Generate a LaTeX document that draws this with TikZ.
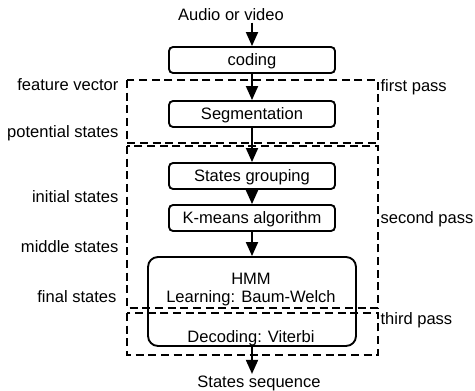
\documentclass[tikz,border=0pt]{standalone}
\usepackage{fontspec}
\setmainfont{Liberation Sans}
\usetikzlibrary{arrows.meta}

\tikzset{
  box/.style={draw, line width=1.4pt, inner sep=0pt},
  stage/.style={box, rounded corners=3pt, minimum width=124.5pt,
                minimum height=19.5pt, text depth=0pt},
  hmmbox/.style={box, rounded corners=7.5pt, minimum width=156pt,
                 minimum height=66.75pt},
  passbox/.style={draw, dash pattern=on 6pt off 3.5pt, line width=1.4pt},
  flow/.style={-{Triangle[width=9pt,length=10.5pt]}, line width=1.4pt},
  tag/.style={inner sep=1pt},
}

\begin{document}
\begin{tikzpicture}[x=0.75pt, y=-0.75pt]
    \fontsize{12.4}{15}\selectfont
    \useasboundingbox (0,0) rectangle (475,391);

    % passes
    \draw [passbox] (127,80)  rectangle (378,143);
    \draw [passbox] (127,146) rectangle (378,308);
    \draw [passbox] (127,313) rectangle (378,355);

    \node[tag] (in)  at (231,15)  {Audio or video};
    \node[stage] (cod) at (252,60)  {coding};
    \node[stage] (seg) at (252,114) {Segmentation};
    \node[stage] (grp) at (252,176) {States grouping};
    \node[stage] (km)  at (252,218) {K-means algorithm};
    \node[hmmbox] (hmm) at (252,301.5) {};
    \node[tag, align=center] (hmmtxt) at (251,310)
          {HMM\\[-1.5pt]Learning: Baum-Welch\\[15pt]Decoding: Viterbi};
    \node[tag] (out) at (259,383) {States sequence};

    \node[tag, anchor=east] (fv) at (120,85)  {feature vector};
    \node[tag, anchor=east] (ps) at (120,133) {potential states};
    \node[tag, anchor=east] (is) at (120,197) {initial states};
    \node[tag, anchor=east] (ms) at (120,247) {middle states};
    \node[tag, anchor=east] (fs) at (118,297) {final states};

    \node[tag, anchor=west] (p1) at (379,87)  {first pass};
    \node[tag, anchor=west] (p2) at (379,219) {second pass};
    \node[tag, anchor=west] (p3) at (379,320) {third pass};

    \draw [flow] (in.south -| cod)  -- (cod);
    \draw [flow] (cod) -- (seg);
    \draw [flow] (seg) -- (grp);
    \draw [flow] (grp) -- (km);
    \draw [flow] (km)  -- (hmm);
    \draw [flow] (hmm) -- (out.north -| hmm);
\end{tikzpicture}
\end{document}
